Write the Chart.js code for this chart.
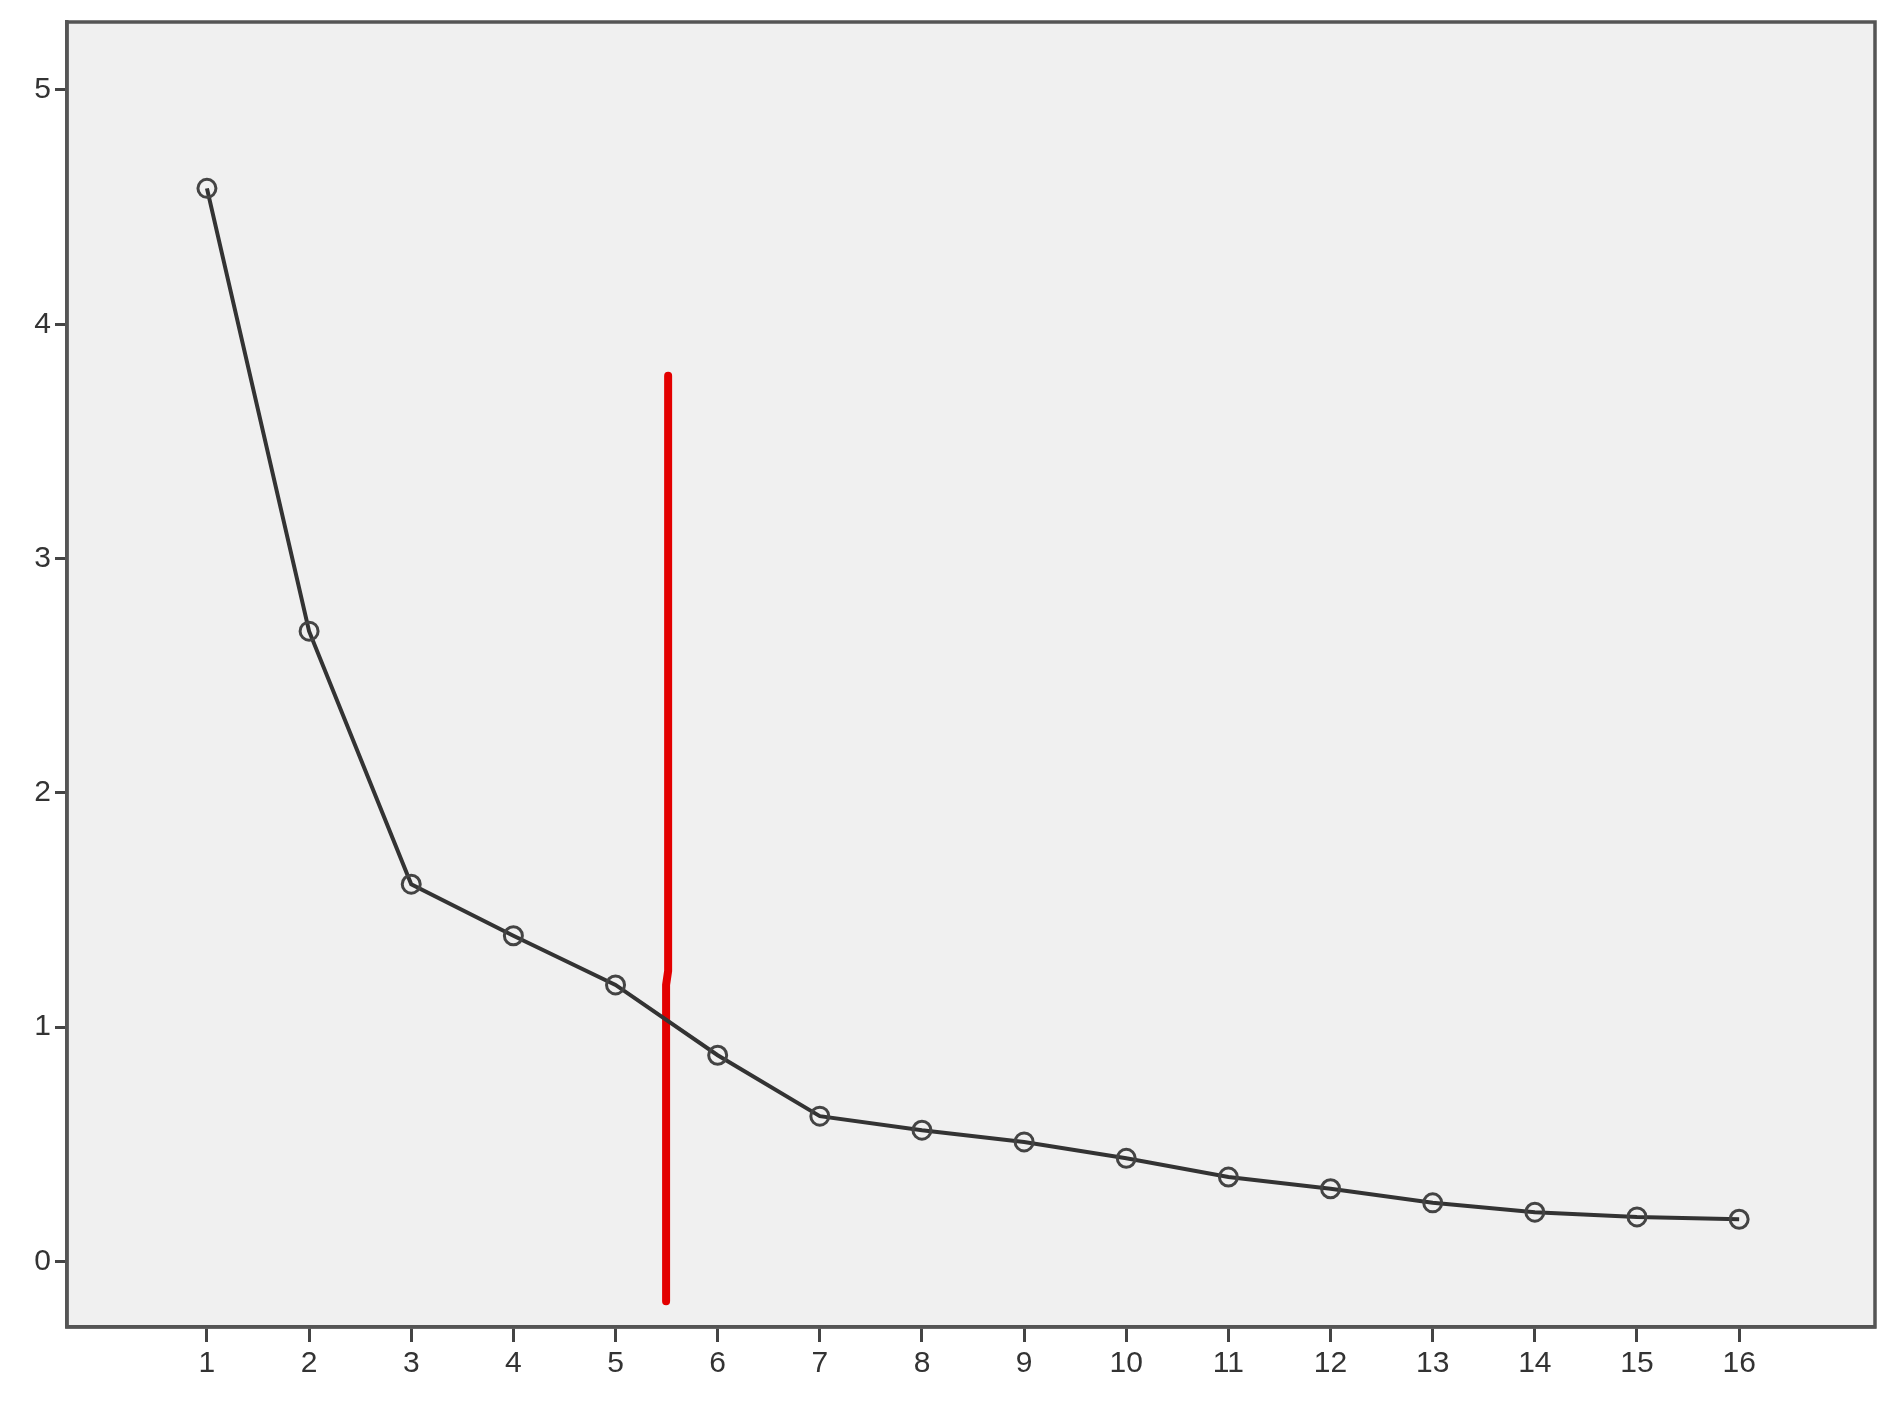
<!DOCTYPE html>
<html>
<head>
<meta charset="utf-8">
<script src="https://cdn.jsdelivr.net/npm/chart.js@4/dist/chart.umd.min.js"></script>
<style>
    html, body { margin: 0; padding: 0; background: #ffffff; }
    #wrap { width: 1903px; height: 1423px; }
</style>
</head>
<body>
<div id="wrap"><canvas id="myChart"></canvas></div>
<script>
const components = [1, 2, 3, 4, 5, 6, 7, 8, 9, 10, 11, 12, 13, 14, 15, 16];
const eigenvalues = [4.58, 2.69, 1.61, 1.39, 1.18, 0.88, 0.62, 0.56, 0.51, 0.44, 0.36, 0.31, 0.25, 0.21, 0.19, 0.18];
const yTicks = [0, 1, 2, 3, 4, 5];
// hand-drawn red cut line (x, y pairs in data units)
const cutX = [5.515, 5.515, 5.495, 5.495];
const cutY = [3.78, 1.24, 1.18, -0.17];

const frame = {
    id: "frame",
    beforeDraw(chart) {
        const { ctx, chartArea: a } = chart;
        ctx.save();
        ctx.fillStyle = "#f0f0f0";
        ctx.fillRect(a.left, a.top, a.right - a.left, a.bottom - a.top);
        ctx.restore();
    },
    afterDraw(chart) {
        const { ctx, chartArea: a } = chart;
        ctx.save();
        ctx.strokeStyle = "#555555";
        ctx.lineWidth = 3.5;
        ctx.strokeRect(a.left, a.top, a.right - a.left, a.bottom - a.top);
        ctx.restore();
    },
};

function main() {
    const ctx = document.getElementById("myChart");
    const tickFont = { family: "'Liberation Sans Narrow', 'Arial Narrow', 'Liberation Sans', sans-serif", size: 30 };

    new Chart(ctx, {
        type: "line",
        data: {
            datasets: [
                {
                    label: "cut",
                    data: cutX.map((x, i) => ({ x: x, y: cutY[i] })),
                    borderColor: "#e30000",
                    borderWidth: 8,
                    borderCapStyle: "round",
                    borderJoinStyle: "round",
                    pointRadius: 0,
                    order: 1,
                },
                {
                    label: "eigen",
                    data: components.map((c, i) => ({ x: c, y: eigenvalues[i] })),
                    borderColor: "#333333",
                    borderWidth: 4,
                    pointStyle: "circle",
                    pointRadius: 9,
                    pointBorderWidth: 3,
                    pointBorderColor: "#444444",
                    pointBackgroundColor: "rgba(0,0,0,0)",
                    order: 0,
                },
            ],
        },
        options: {
            responsive: true,
            maintainAspectRatio: false,
            animation: false,
            layout: { padding: { top: 21, right: 28, left: 0, bottom: 0 } },
            plugins: { legend: { display: false }, tooltip: { enabled: false } },
            scales: {
                x: {
                    type: "linear",
                    min: -0.37,
                    max: 17.33,
                    afterBuildTicks: (s) => { s.ticks = components.map((v) => ({ value: v })); },
                    afterFit: (s) => { s.height = 96; },
                    grid: { drawOnChartArea: false, tickLength: 15, tickColor: "#444444", tickWidth: 3 },
                    border: { display: true, color: "#555555", width: 3.5 },
                    ticks: { color: "#333333", font: tickFont, padding: 4, maxRotation: 0, autoSkip: false },
                },
                y: {
                    min: -0.28,
                    max: 5.29,
                    afterBuildTicks: (s) => { s.ticks = yTicks.map((v) => ({ value: v })); },
                    afterFit: (s) => { s.width = 67; },
                    grid: { drawOnChartArea: false, tickLength: 12, tickColor: "#444444", tickWidth: 3 },
                    border: { display: true, color: "#555555", width: 3.5 },
                    ticks: { color: "#333333", font: tickFont, padding: 4 },
                },
            },
        },
        plugins: [frame],
    });
}

main();
</script>
</body>
</html>
